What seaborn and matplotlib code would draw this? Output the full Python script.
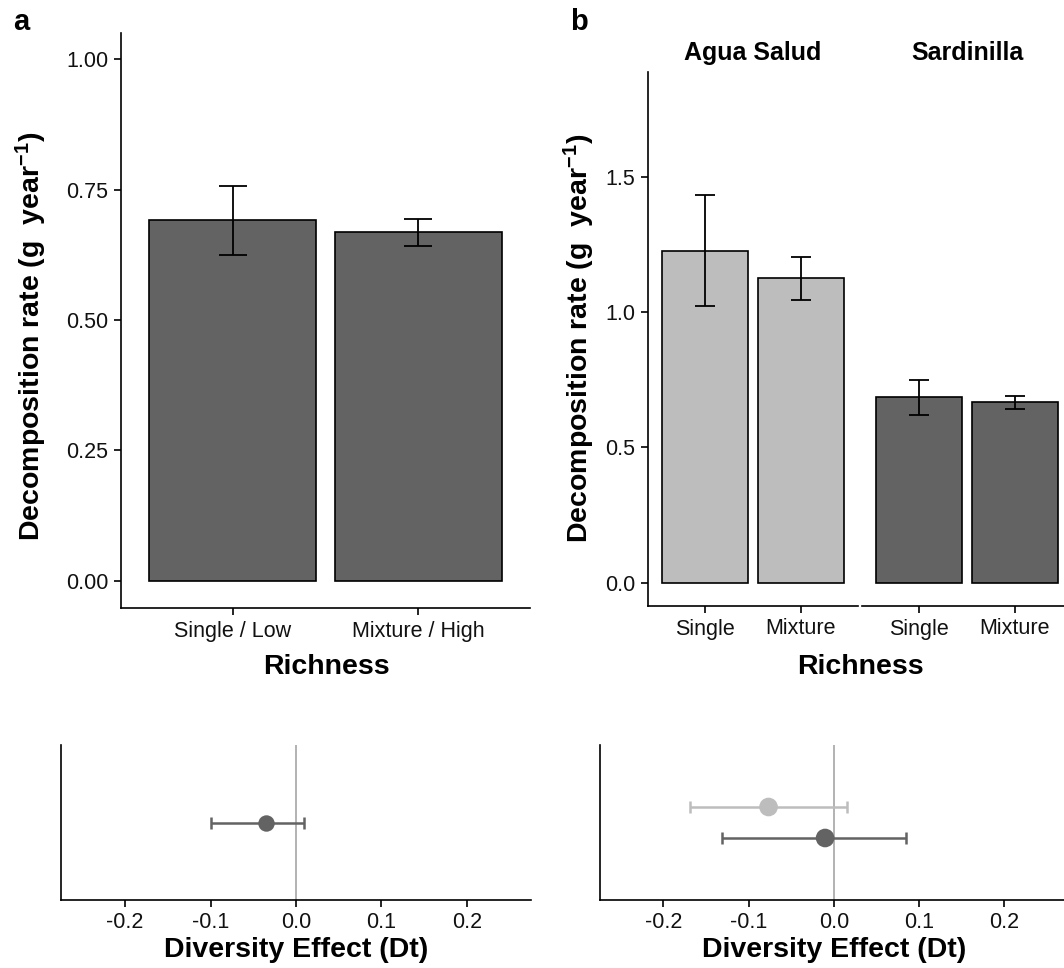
import numpy as np
import pandas as pd
import matplotlib
matplotlib.use("Agg")
import matplotlib.pyplot as plt
import seaborn as sns

# ---- data ----
# panel a: pooled decomposition rate
a_richness = ["Single / Low", "Mixture / High"]
a_rate = [0.691, 0.668]
a_err_low = [0.625, 0.642]
a_err_high = [0.757, 0.694]

# panel b: per site
sites = ["Agua Salud", "Sardinilla"]
b_richness = ["Single", "Mixture"]
b_rate = {"Agua Salud": [1.228, 1.126], "Sardinilla": [0.687, 0.668]}
b_err_low = {"Agua Salud": [1.022, 1.045], "Sardinilla": [0.621, 0.643]}
b_err_high = {"Agua Salud": [1.434, 1.205], "Sardinilla": [0.750, 0.692]}

# diversity effect (Dt)
a_dt = [-0.0347]
a_dt_low = [-0.0992]
a_dt_high = [0.0097]
b_dt = [-0.0766, -0.0102]
b_dt_low = [-0.169, -0.131]
b_dt_high = [0.015, 0.0852]

DARK = "#636363"
LIGHT = "#bdbdbd"
site_colors = {"Agua Salud": LIGHT, "Sardinilla": DARK}

sns.set_theme(style="ticks")
plt.rcParams["font.family"] = ["Liberation Sans", "DejaVu Sans"]
plt.rcParams["axes.unicode_minus"] = False
plt.rcParams["axes.linewidth"] = 1.2
plt.rcParams["xtick.major.width"] = 1.2
plt.rcParams["ytick.major.width"] = 1.2
plt.rcParams["xtick.color"] = "black"
plt.rcParams["ytick.color"] = "black"
plt.rcParams["axes.edgecolor"] = "black"
plt.rcParams["text.color"] = "black"
plt.rcParams["mathtext.default"] = "regular"

W, H = 1064, 968
fig = plt.figure(figsize=(W / 100, H / 100), dpi=100)

TICK_FS = 15.5
LAB_FS = 20.5


def box(left, top, right, bottom):
    return [left / W, (H - bottom) / H, (right - left) / W, (bottom - top) / H]


def style_axis(ax):
    sns.despine(ax=ax)
    ax.tick_params(axis="both", labelsize=TICK_FS, length=5, pad=4, labelcolor="#111111")


YLAB = r"Decomposition rate (g  year$^{-1}$)"

# ---------------- panel a (bars) ----------------
ax_a = fig.add_axes(box(121, 33, 530, 608))
df_a = pd.DataFrame({"Richness": a_richness, "rate": a_rate})
sns.barplot(data=df_a, x="Richness", y="rate", color=DARK, saturation=1,
            edgecolor="black", linewidth=1.2, width=0.9, errorbar=None, ax=ax_a)
ax_a.errorbar(np.arange(len(a_rate)), a_rate,
              yerr=[np.array(a_rate) - np.array(a_err_low), np.array(a_err_high) - np.array(a_rate)],
              fmt="none", ecolor="black", elinewidth=1.3, capsize=10, capthick=1.3)
ax_a.set_xlim(-0.6, 1.6)
ax_a.set_ylim(-0.052, 1.05)
ax_a.set_yticks([0, 0.25, 0.5, 0.75, 1.0])
ax_a.set_yticklabels(["0.00", "0.25", "0.50", "0.75", "1.00"])
ax_a.set_xlabel("")
ax_a.set_ylabel("")
style_axis(ax_a)

# ---------------- panel b (faceted bars) ----------------
facet_boxes = [box(648, 72, 858, 606), box(862, 72, 1072, 606)]
b_axes = []
for i, site in enumerate(sites):
    ax = fig.add_axes(facet_boxes[i])
    df_b = pd.DataFrame({"Richness": b_richness, "rate": b_rate[site]})
    sns.barplot(data=df_b, x="Richness", y="rate", color=site_colors[site], saturation=1,
                edgecolor="black", linewidth=1.2, width=0.9, errorbar=None, ax=ax)
    r = np.array(b_rate[site])
    ax.errorbar(np.arange(len(r)), r,
                yerr=[r - np.array(b_err_low[site]), np.array(b_err_high[site]) - r],
                fmt="none", ecolor="black", elinewidth=1.3, capsize=7.5, capthick=1.3)
    ax.set_xlim(-0.6, 1.6)
    ax.set_ylim(-0.087, 1.89)
    ax.set_yticks([0, 0.5, 1.0, 1.5])
    ax.set_yticklabels(["0.0", "0.5", "1.0", "1.5"])
    ax.set_xlabel("")
    ax.set_ylabel("")
    style_axis(ax)
    ax.text(0.5, 1 + 19 / 534, site, transform=ax.transAxes, ha="center", va="center",
            fontsize=18, fontweight="bold")
    if i > 0:
        ax.spines["left"].set_visible(False)
        ax.tick_params(axis="y", left=False, labelleft=False)
    b_axes.append(ax)

# ---------------- diversity effect panels ----------------
def dt_panel(rect, vals, lows, highs, colors, ypos, ylim, xlim, size):
    ax = fig.add_axes(rect)
    ax.axvline(0, color="#a6a6a6", lw=1.2, zorder=1)
    for v, lo, hi, c, y in zip(vals, lows, highs, colors, ypos):
        ax.errorbar([v], [y], xerr=[[v - lo], [hi - v]], fmt="none", ecolor=c,
                    elinewidth=1.8, capsize=4.5, capthick=1.8, zorder=2)
    df_pts = pd.DataFrame({"dt": vals, "y": ypos, "c": colors})
    sns.scatterplot(data=df_pts, x="dt", y="y", hue="c", palette={c: c for c in colors},
                    s=size, linewidth=0, legend=False, ax=ax, zorder=3)
    ax.set_xlim(*xlim)
    ax.set_ylim(*ylim)
    ax.set_xticks([-0.2, -0.1, 0.0, 0.1, 0.2])
    ax.set_xticklabels(["-0.2", "-0.1", "0.0", "0.1", "0.2"])
    ax.set_yticks([])
    ax.set_xlabel("")
    ax.set_ylabel("")
    style_axis(ax)
    return ax


dt_a = dt_panel(box(61, 745, 531, 900), a_dt, a_dt_low, a_dt_high, [DARK], [0],
                (-2.5, 2.5), (-0.275, 0.275), 140)
dt_b = dt_panel(box(600, 745, 1068, 900), b_dt, b_dt_low, b_dt_high, [LIGHT, DARK], [1, 0],
                (-2, 3), (-0.2745, 0.275), 180)

# ---------------- titles and labels ----------------
fig.text(13 / W, 1 - 22 / H, "a", ha="left", va="center", fontsize=21, fontweight="bold")
fig.text(570 / W, 1 - 22 / H, "b", ha="left", va="center", fontsize=21, fontweight="bold")

fig.text(31 / W, 1 - 336 / H, YLAB, rotation=90, ha="center", va="center",
         fontsize=LAB_FS, fontweight="bold")
fig.text(579 / W, 1 - 338 / H, YLAB, rotation=90, ha="center", va="center",
         fontsize=LAB_FS, fontweight="bold")

fig.text(326 / W, 1 - 667 / H, "Richness", ha="center", va="center", fontsize=LAB_FS, fontweight="bold")
fig.text(860 / W, 1 - 667 / H, "Richness", ha="center", va="center", fontsize=LAB_FS, fontweight="bold")

fig.text(296 / W, 1 - 950 / H, "Diversity Effect (Dt)", ha="center", va="center",
         fontsize=LAB_FS, fontweight="bold")
fig.text(834 / W, 1 - 950 / H, "Diversity Effect (Dt)", ha="center", va="center",
         fontsize=LAB_FS, fontweight="bold")

fig.savefig("out.png", dpi=100)
